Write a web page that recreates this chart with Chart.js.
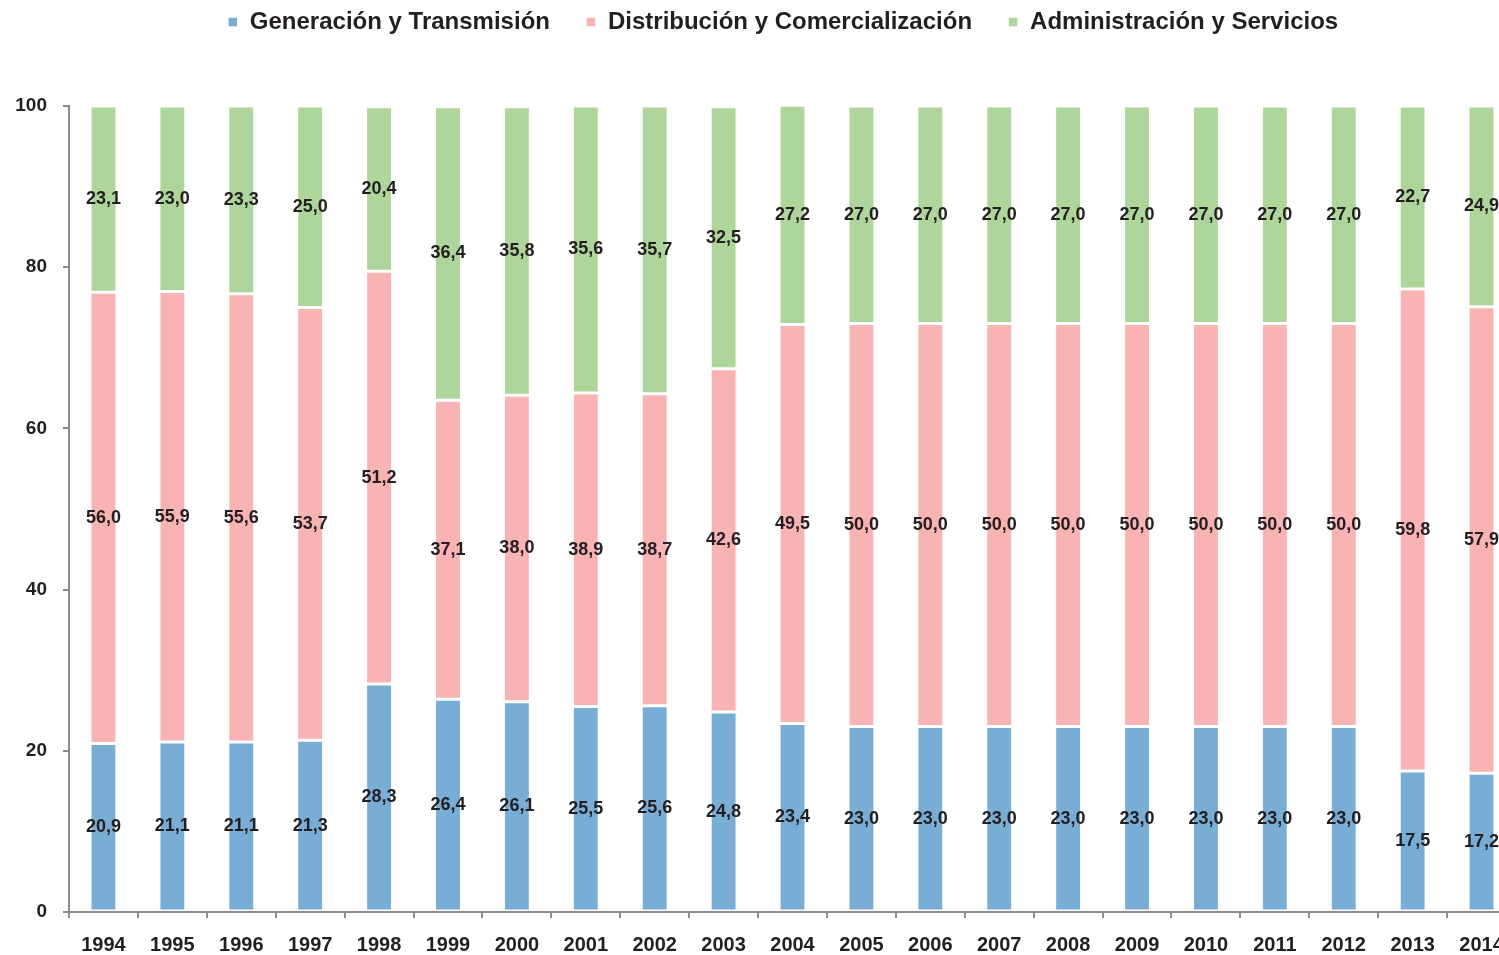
<!DOCTYPE html>
<html>
<head>
<meta charset="utf-8">
<script src="https://cdn.jsdelivr.net/npm/chart.js@4/dist/chart.umd.min.js"></script>
<style>
  html, body { margin: 0; padding: 0; background: #fff; overflow: hidden; }
  #wrap { width: 1499px; height: 955px; overflow: hidden; }
</style>
</head>
<body>
<div id="wrap"><canvas id="costChart" width="1569" height="955"></canvas></div>
<script>
const years = ['1994', '1995', '1996', '1997', '1998', '1999', '2000', '2001', '2002', '2003', '2004',
  '2005', '2006', '2007', '2008', '2009', '2010', '2011', '2012', '2013', '2014'];
const generacion = [20.9, 21.1, 21.1, 21.3, 28.3, 26.4, 26.1, 25.5, 25.6, 24.8, 23.4,
  23.0, 23.0, 23.0, 23.0, 23.0, 23.0, 23.0, 23.0, 17.5, 17.2];
const distribucion = [56.0, 55.9, 55.6, 53.7, 51.2, 37.1, 38.0, 38.9, 38.7, 42.6, 49.5,
  50.0, 50.0, 50.0, 50.0, 50.0, 50.0, 50.0, 50.0, 59.8, 57.9];
const administracion = [23.1, 23.0, 23.3, 25.0, 20.4, 36.4, 35.8, 35.6, 35.7, 32.5, 27.2,
  27.0, 27.0, 27.0, 27.0, 27.0, 27.0, 27.0, 27.0, 22.7, 24.9];
const yTicks = [0, 20, 40, 60, 80, 100];

const axisGrey = '#8c8c8c';
const textDark = '#231f20';
const fontFamily = '"Liberation Sans", Arial, sans-serif';

// values written in the middle of each segment, with a decimal comma
const segmentLabels = {
  id: 'segmentLabels',
  afterDatasetsDraw(chart) {
    const ctx = chart.ctx;
    ctx.save();
    ctx.font = 'bold 18px ' + fontFamily;
    ctx.fillStyle = textDark;
    ctx.textAlign = 'center';
    ctx.textBaseline = 'middle';
    chart.data.datasets.forEach((ds, i) => {
      chart.getDatasetMeta(i).data.forEach((bar, j) => {
        const yMid = (bar.y + bar.base) / 2;
        ctx.fillText(ds.data[j].toFixed(1).replace('.', ','), bar.x, yMid);
      });
    });
    ctx.restore();
  }
};

// more room under the legend, and legend moved a bit to the right
const legendPlacement = {
  id: 'legendPlacement',
  beforeUpdate(chart) {
    const lg = chart.legend;
    if (lg && !lg._patched) {
      const fit = lg.fit;
      lg.fit = function () { fit.call(this); this.height += 62; };
      lg._patched = true;
    }
  },
  afterLayout(chart) {
    chart.legend.left += 25;
    chart.legend.right += 25;
  }
};

const ctx = document.getElementById('costChart').getContext('2d');
const myChart = new Chart(ctx, {
  type: 'bar',
  data: {
    labels: years,
    datasets: [
      { label: 'Generación y Transmisión', data: generacion, backgroundColor: '#78aed6' },
      { label: 'Distribución y Comercialización', data: distribucion, backgroundColor: '#f8b3b2' },
      { label: 'Administración y Servicios', data: administracion, backgroundColor: '#aed59a' },
    ].map(d => Object.assign(d, {
      borderColor: '#ffffff',
      borderWidth: 1.5,
      borderSkipped: false,
      barPercentage: 0.78,
      categoryPercentage: 0.5,
    })),
  },
  options: {
    responsive: false,
    animation: false,
    layout: { padding: { left: 0, right: 53, top: -26, bottom: 0 } },
    plugins: {
      tooltip: { enabled: false },
      legend: {
        position: 'top',
        labels: {
          boxWidth: 10,
          boxHeight: 10,
          padding: 36,
          color: textDark,
          font: { family: fontFamily, size: 24, weight: 'bold' },
        },
      },
    },
    scales: {
      x: {
        stacked: true,
        afterFit: (scale) => { scale.height = 43; },
        grid: {
          offset: true,
          drawOnChartArea: false,
          drawTicks: true,
          tickLength: 6,
          color: axisGrey,
          lineWidth: 2,
        },
        border: { color: axisGrey, width: 2 },
        ticks: {
          color: textDark,
          padding: 15,
          maxRotation: 0,
          autoSkip: false,
          font: { family: fontFamily, size: 20, weight: 'bold' },
        },
      },
      y: {
        stacked: true,
        min: 0,
        max: 100,
        afterFit: (scale) => { scale.width = 69; },
        afterBuildTicks: (scale) => { scale.ticks = yTicks.map(v => ({ value: v })); },
        grid: {
          drawOnChartArea: false,
          drawTicks: true,
          tickLength: 6,
          color: axisGrey,
          lineWidth: 2,
        },
        border: { color: axisGrey, width: 2 },
        ticks: {
          color: textDark,
          padding: 16,
          font: { family: fontFamily, size: 19, weight: 'bold' },
        },
      },
    },
  },
  plugins: [segmentLabels, legendPlacement],
});
</script>
</body>
</html>
